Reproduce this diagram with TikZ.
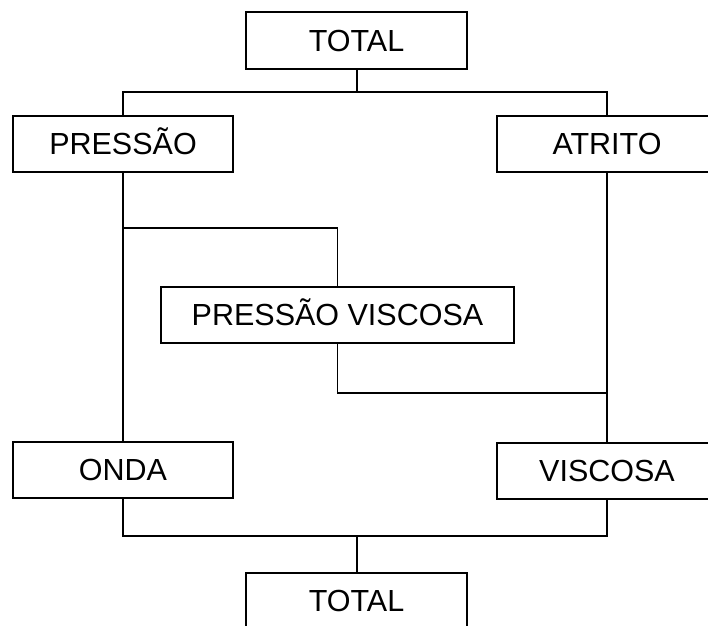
\documentclass[tikz,border=0pt]{standalone}
\usepackage{fontspec}
\setmainfont{Liberation Sans}
\begin{document}
\begin{tikzpicture}[x=1pt,y=-1pt,
  box/.style={draw=black, line width=1.8pt, fill=white, inner sep=0pt,
    text height=21.8pt, text depth=0pt,
    minimum width=220pt, minimum height=56pt, font=\fontsize{30.5}{36}\selectfont},
  conn/.style={draw=black, line width=1.8pt, line join=miter}]
\useasboundingbox (0,0) rectangle (708,625);
\clip (0,0) rectangle (708,625);
\node[box, minimum width=221pt, minimum height=57pt] (total1) at (356.5,40.5) {TOTAL};
\node[box] (press) at (123,144) {PRESSÃO};
\node[box] (atrito) at (607,144) {ATRITO};
\node[box, minimum width=353pt] (pv) at (337.5,315) {PRESSÃO VISCOSA};
\node[box] (onda) at (123,470) {ONDA};
\node[box] (visc) at (607,471) {VISCOSA};
\node[box, minimum width=221pt] (total2) at (356.5,601) {TOTAL};
\coordinate (j1) at (357,92);
\coordinate (j2) at (123,228);
\coordinate (j3) at (607,393);
\coordinate (j4) at (357,536);
\draw[conn] (total1.south -| j1) -- (j1);
\draw[conn] (press.north) |- (j1) -| (atrito.north);
\draw[conn] (press.south) -- (onda.north);
\draw[conn] (j2) -| (pv.north);
\draw[conn] (atrito.south) -- (visc.north);
\draw[conn] (pv.south) |- (j3);
\draw[conn] (onda.south) |- (j4) -| (visc.south);
\draw[conn] (j4) -- (total2.north -| j4);
\end{tikzpicture}
\end{document}
